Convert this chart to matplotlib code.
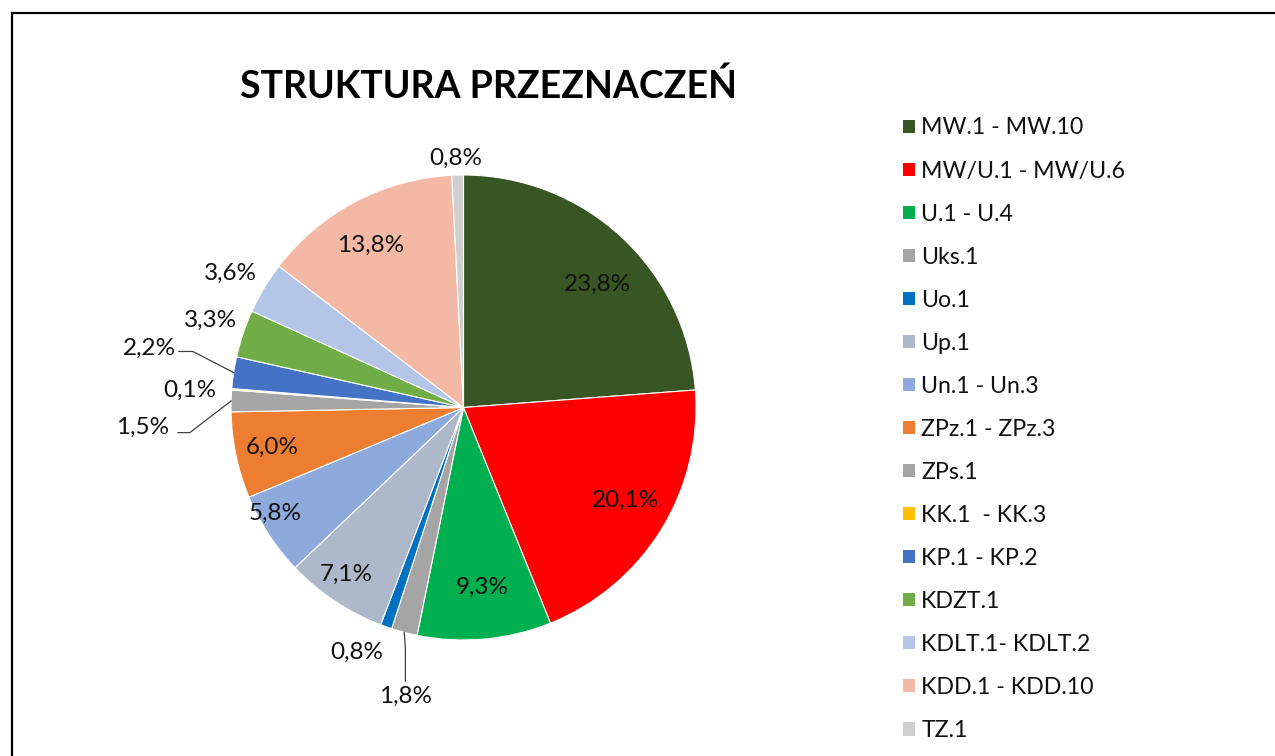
import matplotlib.pyplot as plt
from matplotlib.lines import Line2D
import numpy as np

plt.rcParams['font.family'] = ['Lato', 'DejaVu Sans']

# data
categories = ['MW.1 - MW.10', 'MW/U.1 - MW/U.6', 'U.1 - U.4', 'Uks.1', 'Uo.1',
              'Up.1', 'Un.1 - Un.3', 'ZPz.1 - ZPz.3', 'ZPs.1', 'KK.1  - KK.3',
              'KP.1 - KP.2', 'KDZT.1', 'KDLT.1- KDLT.2', 'KDD.1 - KDD.10', 'TZ.1']
shares = [23.8, 20.1, 9.3, 1.8, 0.8, 7.1, 5.8, 6.0, 1.5, 0.1, 2.2, 3.3, 3.6, 13.8, 0.8]
colors = ['#375623', '#FF0000', '#00B050', '#A5A5A5', '#0070C0', '#ADB9CA',
          '#8EA9DB', '#ED7D31', '#A5A5A5', '#FFC000', '#4472C4', '#70AD47',
          '#B4C6E7', '#F4B9A4', '#D0CECE']

# label positions (pie radius = 1) and which ones get a leader line
label_pos = {0: (0.578, 0.530), 1: (0.698, -0.401), 2: (0.082, -0.772),
             3: (-0.250, -1.241), 4: (-0.461, -1.052), 5: (-0.504, -0.716),
             6: (-0.810, -0.457), 7: (-0.823, -0.172), 8: (-1.379, -0.086),
             9: (-1.177, 0.073), 10: (-1.349, 0.254), 11: (-1.090, 0.375),
             12: (-1.004, 0.578), 13: (-0.401, 0.698), 14: (-0.034, 1.073)}
# leader line elbows: (start point near label, elbow point)
leaders = {3: [(-0.250, -1.177), (-0.250, -1.04)],
           8: [(-1.228, -0.108), (-1.177, -0.108)],
           10: [(-1.224, 0.241), (-1.164, 0.241)]}

W, H = 1275, 756
fig = plt.figure(figsize=(W / 100, H / 100), dpi=100)

# outer frame (only left and top edges are visible in the crop)
fig.add_artist(Line2D([11.5 / W, 11.5 / W], [0, 1 - 12.5 / H], color='black',
                      lw=1.6, transform=fig.transFigure))
fig.add_artist(Line2D([11.5 / W, 1], [1 - 12.5 / H, 1 - 12.5 / H], color='black',
                      lw=1.6, transform=fig.transFigure))

cx, cy, r = 463.5, 407.5, 232.5
ax = fig.add_axes([(cx - r) / W, (H - cy - r) / H, 2 * r / W, 2 * r / H])
wedges, _ = ax.pie(shares, colors=colors, startangle=90, counterclock=False,
                   radius=1, wedgeprops=dict(edgecolor='white', linewidth=0.8))
ax.set_xlim(-1, 1)
ax.set_ylim(-1, 1)
ax.set_aspect('equal')
ax.axis('off')

for i, (w, v) in enumerate(zip(wedges, shares)):
    x, y = label_pos[i]
    ax.text(x, y, f'{v:.1f}%'.replace('.', ','), ha='center', va='center',
            fontsize=17.5, color='#111111', clip_on=False)
    if i in leaders:
        mid = np.deg2rad((w.theta1 + w.theta2) / 2)
        pts = leaders[i] + [(np.cos(mid), np.sin(mid))]
        xs, ys = zip(*pts)
        ax.plot(xs, ys, color='#404040', lw=0.9, clip_on=False)

fig.text(488 / W, 1 - 86 / H, 'STRUKTURA PRZEZNACZEŃ', ha='center', va='center',
         fontsize=27, fontweight='bold', color='black')

leg = fig.legend(wedges, categories, loc='upper left',
                 bbox_to_anchor=(903 / W, 1 - 117.5 / H), frameon=False,
                 fontsize=16.7, handlelength=0.52, handleheight=0.52,
                 handletextpad=0.27, labelspacing=0.95, borderpad=0,
                 borderaxespad=0)
for h in leg.legend_handles:
    h.set_edgecolor('none')
for t in leg.get_texts():
    t.set_color('#111111')

fig.savefig('out.png', dpi=100)
